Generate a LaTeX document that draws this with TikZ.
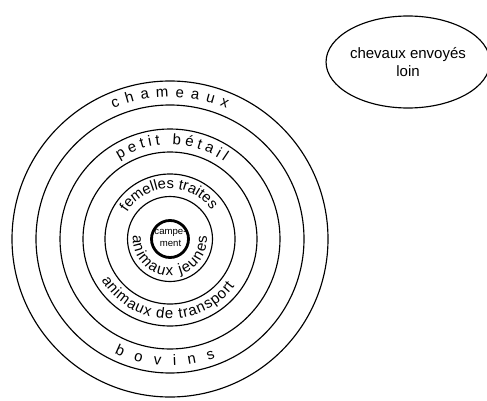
\documentclass[tikz,border=0pt]{standalone}
\usepackage{fontspec}
\setmainfont{Liberation Sans}
\usetikzlibrary{decorations.text,shapes.geometric}
\newcommand\labfont{\fontsize{15}{15}\selectfont}
\newcommand\labfontb{\fontsize{14.8}{14.8}\selectfont}
\tikzset{
  ring/.style={draw=black, line width=1.15pt},
  campring/.style={draw=black, line width=2.8pt},
  arclabel/.style={decorate, decoration={text along path, text align={fit to path}, text={#1}}},
}
\begin{document}
\begin{tikzpicture}[x=1pt,y=1pt]
\useasboundingbox (0,0) rectangle (487,400);
\coordinate (C) at (170,161);
% rings
\draw[ring] (C) circle[radius=158];
\draw[ring] (C) circle[radius=134];
\draw[ring] (C) circle[radius=110];
\draw[ring] (C) circle[radius=87];
\draw[ring] (C) circle[radius=65];
\draw[ring] (C) circle[radius=42.5];
\node[circle, campring, minimum size=37pt, inner sep=0pt] (camp) at (C) {};
\node[font=\fontsize{9.6}{12}\selectfont, align=center, inner sep=0pt] (camptext) at (170.5,162) {campe-\\ment};
% curved labels
\path[arclabel={|\labfont|chameaux}] (C) ++(113.5:142) arc[start angle=113.5, end angle=66.5, radius=142];
\path[arclabel={|\labfont|petit bétail}] (C) ++(122.5:94.5) arc[start angle=122.5, end angle=55, radius=94.5];
\path[arclabel={|\labfontb|femelles traites}] (C) ++(148:50.5) arc[start angle=148, end angle=35, radius=50.5];
\path[arclabel={|\labfont|animaux jeunes}] (C) ++(174:37) arc[start angle=174, end angle=365, radius=37];
\path[arclabel={|\labfont|animaux de transport}] (C) ++(211:80) arc[start angle=211, end angle=324, radius=80];
\path[arclabel={|\labfont|bovins}] (C) ++(244:127) arc[start angle=244, end angle=291, radius=127];
% ellipse
\node[ellipse, ring, minimum width=152pt, minimum height=92pt, inner sep=0pt, align=center,
      font=\fontsize{15}{18}\selectfont] (chevaux) at (408,338) {chevaux envoyés\\loin};
\end{tikzpicture}
\end{document}
